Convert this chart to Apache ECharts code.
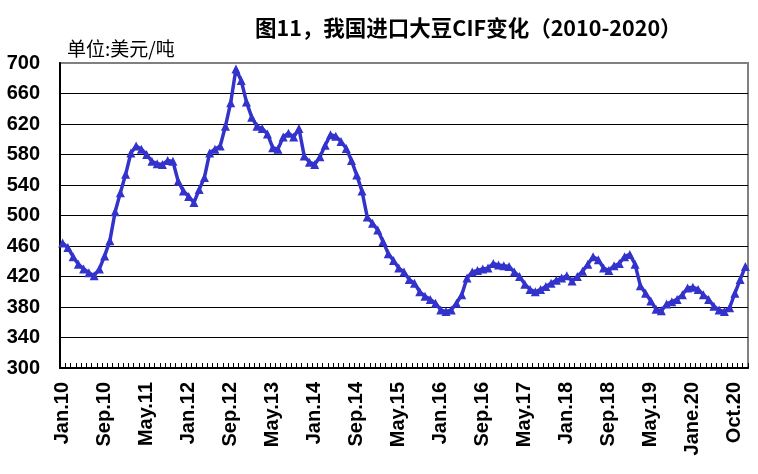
<!DOCTYPE html>
<html>
<head>
<meta charset="utf-8">
<script src="https://cdn.jsdelivr.net/npm/echarts@6/dist/echarts.min.js"></script>
<style>
  html, body { margin: 0; padding: 0; background: #fff; }
  #main { width: 758px; height: 474px; }
</style>
</head>
<body>
<div id="main"></div>
<script>
// 标签（每8个月显示一个，照原图写法）
const tickLabels = ['Jan.10', 'Sep.10', 'May.11', 'Jan.12', 'Sep.12', 'May.13', 'Jan.14', 'Sep.14',
  'May.15', 'Jan.16', 'Sep.16', 'May.17', 'Jan.18', 'Sep.18', 'May.19', 'Jane.20', 'Oct.20'];
const monthNames = ['Jan', 'Feb', 'Mar', 'Apr', 'May', 'Jun', 'Jul', 'Aug', 'Sep', 'Oct', 'Nov', 'Dec'];

// 进口大豆CIF，美元/吨，按年分组
const cif2010 = [464, 458, 446, 436, 430, 425, 421, 430, 447, 467, 505, 530];
const cif2011 = [554, 582, 591, 587, 580, 571, 568, 567, 572, 571, 545, 532];
const cif2012 = [525, 517, 534, 550, 582, 587, 591, 617, 648, 692, 677, 649];
const cif2013 = [629, 617, 614, 607, 589, 587, 603, 608, 603, 614, 578, 570];
const cif2014 = [567, 577, 592, 606, 604, 597, 588, 572, 553, 532, 498, 490];
const cif2015 = [481, 466, 450, 441, 431, 426, 416, 411, 400, 394, 390, 385];
const cif2016 = [376, 374, 376, 385, 396, 418, 426, 428, 430, 431, 437, 435];
const cif2017 = [434, 433, 426, 420, 410, 403, 400, 403, 407, 411, 415, 418];
const cif2018 = [421, 414, 420, 427, 436, 446, 442, 431, 428, 434, 437, 446];
const cif2019 = [449, 436, 408, 398, 388, 377, 375, 384, 387, 390, 396, 405];
const cif2020 = [406, 403, 396, 390, 381, 376, 374, 379, 398, 416, 433];

const values = [].concat(cif2010, cif2011, cif2012, cif2013, cif2014, cif2015,
  cif2016, cif2017, cif2018, cif2019, cif2020);

// 类目：每月一个，每第8个用原图标签
const categories = values.map(function (v, i) {
  if (i % 8 === 0) {
    return tickLabels[i / 8];
  }
  return monthNames[i % 12] + '.' + String(10 + Math.floor(i / 12));
});

const chart = echarts.init(document.getElementById('main'));

const option = {
  backgroundColor: '#fff',
  animation: false,
  title: {
    text: '图11，我国进口大豆CIF变化（2010-2020）',
    left: 250,
    top: 12,
    textStyle: {
      fontFamily: 'Noto Sans CJK SC',
      fontSize: 21.5,
      fontWeight: 'bold',
      color: '#000'
    }
  },
  grid: {
    left: 60,
    right: 10,
    top: 63,
    bottom: 106,
    show: true,
    borderColor: '#808080',
    borderWidth: 2
  },
  xAxis: {
    type: 'category',
    data: categories,
    boundaryGap: true,
    axisLine: {
      lineStyle: { color: '#000', width: 2 }
    },
    axisTick: {
      show: true,
      inside: true,
      interval: 0,
      length: 5,
      lineStyle: { color: '#000', width: 1 }
    },
    axisLabel: {
      interval: 7,
      rotate: 90,
      margin: 14,
      fontFamily: 'Liberation Sans',
      fontSize: 20,
      fontWeight: 'bold',
      color: '#000'
    },
    splitLine: { show: false }
  },
  yAxis: {
    type: 'value',
    min: 300,
    max: 700,
    interval: 40,
    name: '单位:美元/吨',
    nameLocation: 'end',
    nameGap: 5,
    nameTextStyle: {
      fontFamily: 'Noto Sans CJK SC',
      fontSize: 19,
      color: '#000',
      align: 'left',
      padding: [0, 0, 0, 7]
    },
    axisLine: {
      show: true,
      lineStyle: { color: '#000', width: 2 }
    },
    axisTick: { show: false },
    axisLabel: {
      margin: 20,
      fontFamily: 'Liberation Sans',
      fontSize: 20,
      fontWeight: 'bold',
      color: '#000'
    },
    splitLine: {
      show: true,
      showMaxLine: false,
      lineStyle: { color: '#000', width: 1 }
    }
  },
  series: [
    {
      type: 'line',
      data: values,
      symbol: 'triangle',
      symbolSize: 9,
      showAllSymbol: true,
      lineStyle: { color: '#3333CC', width: 3.5 },
      itemStyle: { color: '#3333CC' }
    }
  ]
};

chart.setOption(option);
</script>
</body>
</html>
